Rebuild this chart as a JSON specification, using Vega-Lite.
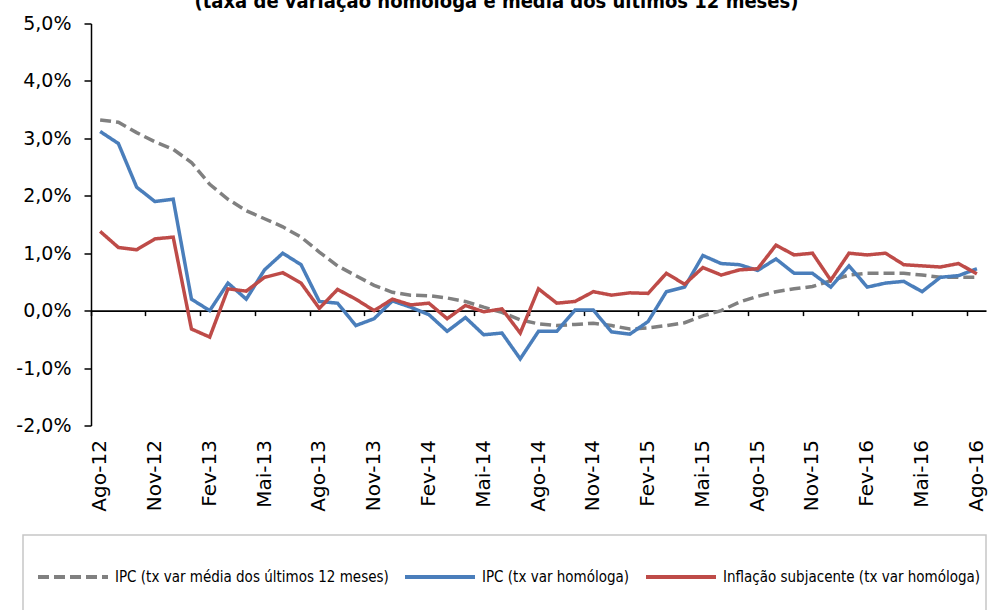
{
  "$schema": "https://vega.github.io/schema/vega-lite/v6.json",
  "width": 895,
  "height": 402,
  "autosize": {"type": "none"},
  "padding": {"left": 91, "top": 23.5, "right": 3, "bottom": 184.5},
  "background": "white",
  "title": {
    "text": "(taxa de variação homóloga e média dos últimos 12 meses)",
    "font": "DejaVu Sans Condensed",
    "fontWeight": "bold",
    "fontSize": 20,
    "color": "black",
    "anchor": "middle",
    "frame": "group",
    "dx": -42,
    "offset": 3
  },
  "config": {
    "view": {"stroke": null},
    "locale": {"number": {"decimal": ",", "thousands": ".", "grouping": [3], "currency": ["", " €"], "minus": "-"}},
    "legend": {
      "orient": "none",
      "legendX": -68,
      "legendY": 511.5,
      "direction": "horizontal",
      "padding": 5,
      "symbolSize": 4900,
      "symbolStrokeWidth": 4,
      "symbolOffset": 8,
      "labelFont": "DejaVu Sans Condensed",
      "labelFontSize": 15,
      "labelColor": "black",
      "labelLimit": 0,
      "labelOffset": 5,
      "columnPadding": 6,
      "strokeColor": "#c6c6c6",
      "strokeWidth": 1.5,
      "titleOrient": "bottom",
      "titleFontSize": 20,
      "titlePadding": 20
    }
  },
  "data": {
    "values": [
      {"m": "Ago-12", "IPC (tx var média dos últimos 12 meses)": 3.32, "IPC (tx var homóloga)": 3.12, "Inflação subjacente (tx var homóloga)": 1.38},
      {"m": "Set-12", "IPC (tx var média dos últimos 12 meses)": 3.28, "IPC (tx var homóloga)": 2.91, "Inflação subjacente (tx var homóloga)": 1.10},
      {"m": "Out-12", "IPC (tx var média dos últimos 12 meses)": 3.10, "IPC (tx var homóloga)": 2.15, "Inflação subjacente (tx var homóloga)": 1.06},
      {"m": "Nov-12", "IPC (tx var média dos últimos 12 meses)": 2.94, "IPC (tx var homóloga)": 1.90, "Inflação subjacente (tx var homóloga)": 1.25},
      {"m": "Dez-12", "IPC (tx var média dos últimos 12 meses)": 2.81, "IPC (tx var homóloga)": 1.94, "Inflação subjacente (tx var homóloga)": 1.28},
      {"m": "Jan-13", "IPC (tx var média dos últimos 12 meses)": 2.58, "IPC (tx var homóloga)": 0.20, "Inflação subjacente (tx var homóloga)": -0.32},
      {"m": "Fev-13", "IPC (tx var média dos últimos 12 meses)": 2.20, "IPC (tx var homóloga)": 0.00, "Inflação subjacente (tx var homóloga)": -0.46},
      {"m": "Mar-13", "IPC (tx var média dos últimos 12 meses)": 1.94, "IPC (tx var homóloga)": 0.48, "Inflação subjacente (tx var homóloga)": 0.38},
      {"m": "Abr-13", "IPC (tx var média dos últimos 12 meses)": 1.74, "IPC (tx var homóloga)": 0.20, "Inflação subjacente (tx var homóloga)": 0.34},
      {"m": "Mai-13", "IPC (tx var média dos últimos 12 meses)": 1.60, "IPC (tx var homóloga)": 0.71, "Inflação subjacente (tx var homóloga)": 0.58},
      {"m": "Jun-13", "IPC (tx var média dos últimos 12 meses)": 1.46, "IPC (tx var homóloga)": 1.00, "Inflação subjacente (tx var homóloga)": 0.66},
      {"m": "Jul-13", "IPC (tx var média dos últimos 12 meses)": 1.28, "IPC (tx var homóloga)": 0.80, "Inflação subjacente (tx var homóloga)": 0.48},
      {"m": "Ago-13", "IPC (tx var média dos últimos 12 meses)": 1.02, "IPC (tx var homóloga)": 0.16, "Inflação subjacente (tx var homóloga)": 0.04},
      {"m": "Set-13", "IPC (tx var média dos últimos 12 meses)": 0.78, "IPC (tx var homóloga)": 0.13, "Inflação subjacente (tx var homóloga)": 0.37},
      {"m": "Out-13", "IPC (tx var média dos últimos 12 meses)": 0.61, "IPC (tx var homóloga)": -0.26, "Inflação subjacente (tx var homóloga)": 0.20},
      {"m": "Nov-13", "IPC (tx var média dos últimos 12 meses)": 0.44, "IPC (tx var homóloga)": -0.14, "Inflação subjacente (tx var homóloga)": 0.00},
      {"m": "Dez-13", "IPC (tx var média dos últimos 12 meses)": 0.32, "IPC (tx var homóloga)": 0.17, "Inflação subjacente (tx var homóloga)": 0.20},
      {"m": "Jan-14", "IPC (tx var média dos últimos 12 meses)": 0.27, "IPC (tx var homóloga)": 0.06, "Inflação subjacente (tx var homóloga)": 0.10},
      {"m": "Fev-14", "IPC (tx var média dos últimos 12 meses)": 0.26, "IPC (tx var homóloga)": -0.07, "Inflação subjacente (tx var homóloga)": 0.13},
      {"m": "Mar-14", "IPC (tx var média dos últimos 12 meses)": 0.22, "IPC (tx var homóloga)": -0.36, "Inflação subjacente (tx var homóloga)": -0.14},
      {"m": "Abr-14", "IPC (tx var média dos últimos 12 meses)": 0.16, "IPC (tx var homóloga)": -0.12, "Inflação subjacente (tx var homóloga)": 0.09},
      {"m": "Mai-14", "IPC (tx var média dos últimos 12 meses)": 0.06, "IPC (tx var homóloga)": -0.42, "Inflação subjacente (tx var homóloga)": -0.02},
      {"m": "Jun-14", "IPC (tx var média dos últimos 12 meses)": -0.03, "IPC (tx var homóloga)": -0.39, "Inflação subjacente (tx var homóloga)": 0.03},
      {"m": "Jul-14", "IPC (tx var média dos últimos 12 meses)": -0.16, "IPC (tx var homóloga)": -0.84, "Inflação subjacente (tx var homóloga)": -0.39},
      {"m": "Ago-14", "IPC (tx var média dos últimos 12 meses)": -0.23, "IPC (tx var homóloga)": -0.36, "Inflação subjacente (tx var homóloga)": 0.38},
      {"m": "Set-14", "IPC (tx var média dos últimos 12 meses)": -0.26, "IPC (tx var homóloga)": -0.36, "Inflação subjacente (tx var homóloga)": 0.13},
      {"m": "Out-14", "IPC (tx var média dos últimos 12 meses)": -0.24, "IPC (tx var homóloga)": 0.01, "Inflação subjacente (tx var homóloga)": 0.16},
      {"m": "Nov-14", "IPC (tx var média dos últimos 12 meses)": -0.22, "IPC (tx var homóloga)": 0.01, "Inflação subjacente (tx var homóloga)": 0.33},
      {"m": "Dez-14", "IPC (tx var média dos últimos 12 meses)": -0.26, "IPC (tx var homóloga)": -0.37, "Inflação subjacente (tx var homóloga)": 0.27},
      {"m": "Jan-15", "IPC (tx var média dos últimos 12 meses)": -0.32, "IPC (tx var homóloga)": -0.41, "Inflação subjacente (tx var homóloga)": 0.31},
      {"m": "Fev-15", "IPC (tx var média dos últimos 12 meses)": -0.30, "IPC (tx var homóloga)": -0.19, "Inflação subjacente (tx var homóloga)": 0.30},
      {"m": "Mar-15", "IPC (tx var média dos últimos 12 meses)": -0.26, "IPC (tx var homóloga)": 0.33, "Inflação subjacente (tx var homóloga)": 0.65},
      {"m": "Abr-15", "IPC (tx var média dos últimos 12 meses)": -0.21, "IPC (tx var homóloga)": 0.41, "Inflação subjacente (tx var homóloga)": 0.46},
      {"m": "Mai-15", "IPC (tx var média dos últimos 12 meses)": -0.09, "IPC (tx var homóloga)": 0.96, "Inflação subjacente (tx var homóloga)": 0.75},
      {"m": "Jun-15", "IPC (tx var média dos últimos 12 meses)": 0.00, "IPC (tx var homóloga)": 0.82, "Inflação subjacente (tx var homóloga)": 0.62},
      {"m": "Jul-15", "IPC (tx var média dos últimos 12 meses)": 0.15, "IPC (tx var homóloga)": 0.80, "Inflação subjacente (tx var homóloga)": 0.71},
      {"m": "Ago-15", "IPC (tx var média dos últimos 12 meses)": 0.25, "IPC (tx var homóloga)": 0.70, "Inflação subjacente (tx var homóloga)": 0.73},
      {"m": "Set-15", "IPC (tx var média dos últimos 12 meses)": 0.33, "IPC (tx var homóloga)": 0.90, "Inflação subjacente (tx var homóloga)": 1.14},
      {"m": "Out-15", "IPC (tx var média dos últimos 12 meses)": 0.38, "IPC (tx var homóloga)": 0.65, "Inflação subjacente (tx var homóloga)": 0.97},
      {"m": "Nov-15", "IPC (tx var média dos últimos 12 meses)": 0.42, "IPC (tx var homóloga)": 0.65, "Inflação subjacente (tx var homóloga)": 1.00},
      {"m": "Dez-15", "IPC (tx var média dos últimos 12 meses)": 0.52, "IPC (tx var homóloga)": 0.41, "Inflação subjacente (tx var homóloga)": 0.53},
      {"m": "Jan-16", "IPC (tx var média dos últimos 12 meses)": 0.62, "IPC (tx var homóloga)": 0.78, "Inflação subjacente (tx var homóloga)": 1.00},
      {"m": "Fev-16", "IPC (tx var média dos últimos 12 meses)": 0.65, "IPC (tx var homóloga)": 0.41, "Inflação subjacente (tx var homóloga)": 0.97},
      {"m": "Mar-16", "IPC (tx var média dos últimos 12 meses)": 0.65, "IPC (tx var homóloga)": 0.48, "Inflação subjacente (tx var homóloga)": 1.00},
      {"m": "Abr-16", "IPC (tx var média dos últimos 12 meses)": 0.65, "IPC (tx var homóloga)": 0.51, "Inflação subjacente (tx var homóloga)": 0.80},
      {"m": "Mai-16", "IPC (tx var média dos últimos 12 meses)": 0.62, "IPC (tx var homóloga)": 0.33, "Inflação subjacente (tx var homóloga)": 0.78},
      {"m": "Jun-16", "IPC (tx var média dos últimos 12 meses)": 0.58, "IPC (tx var homóloga)": 0.58, "Inflação subjacente (tx var homóloga)": 0.76},
      {"m": "Jul-16", "IPC (tx var média dos últimos 12 meses)": 0.58, "IPC (tx var homóloga)": 0.61, "Inflação subjacente (tx var homóloga)": 0.82},
      {"m": "Ago-16", "IPC (tx var média dos últimos 12 meses)": 0.58, "IPC (tx var homóloga)": 0.73, "Inflação subjacente (tx var homóloga)": 0.64}
    ]
  },
  "transform": [
    {"fold": ["IPC (tx var média dos últimos 12 meses)", "IPC (tx var homóloga)", "Inflação subjacente (tx var homóloga)"], "as": ["serie", "valor"]}
  ],
  "encoding": {
    "y": {
      "field": "valor",
      "type": "quantitative",
      "scale": {"domain": [-2, 5], "nice": false, "zero": false},
      "axis": {
        "values": [-2, -1, 0, 1, 2, 3, 4, 5],
        "labelExpr": "format(datum.value, '.1f') + '%'",
        "title": null,
        "grid": false,
        "tickSize": 7,
        "tickColor": "black",
        "tickWidth": 1.5,
        "domainColor": "black",
        "domainWidth": 1.5,
        "labelFont": "DejaVu Sans",
        "labelFontSize": 19,
        "labelColor": "black",
        "labelPadding": 13
      }
    },
    "color": {
      "field": "serie",
      "type": "nominal",
      "title": " ",
      "scale": {
        "domain": ["IPC (tx var média dos últimos 12 meses)", "IPC (tx var homóloga)", "Inflação subjacente (tx var homóloga)"],
        "range": ["#808080", "#4a7ebb", "#be4b48"]
      }
    },
    "strokeDash": {
      "field": "serie",
      "type": "nominal",
      "title": " ",
      "scale": {
        "domain": ["IPC (tx var média dos últimos 12 meses)", "IPC (tx var homóloga)", "Inflação subjacente (tx var homóloga)"],
        "range": [[11, 5], [1, 0], [1, 0]]
      }
    }
  },
  "layer": [
    {
      "transform": [{"filter": "datum.serie === 'IPC (tx var média dos últimos 12 meses)'"}],
      "mark": {"type": "line", "strokeWidth": 3.5},
      "encoding": {
        "x": {
          "field": "m",
          "type": "ordinal",
          "sort": null,
          "bandPosition": 0.5,
          "scale": {"type": "band", "paddingInner": 0, "paddingOuter": 0},
          "axis": {
            "orient": "bottom",
            "title": null,
            "values": ["Ago-12", "Nov-12", "Fev-13", "Mai-13", "Ago-13", "Nov-13", "Fev-14", "Mai-14", "Ago-14", "Nov-14", "Fev-15", "Mai-15", "Ago-15", "Nov-15", "Fev-16", "Mai-16", "Ago-16"],
            "domain": false,
            "ticks": false,
            "grid": false,
            "labelAngle": -90,
            "labelFont": "DejaVu Sans",
            "labelFontSize": 20,
            "labelColor": "black",
            "labelPadding": 14
          }
        }
      }
    },
    {
      "transform": [{"filter": "datum.serie !== 'IPC (tx var média dos últimos 12 meses)'"}],
      "mark": {"type": "line", "strokeWidth": 3.5},
      "encoding": {
        "x": {
          "field": "m",
          "type": "ordinal",
          "sort": null,
          "bandPosition": 0.5,
          "scale": {"type": "band", "paddingInner": 0, "paddingOuter": 0},
          "axis": {
            "orient": "bottom",
            "title": null,
            "offset": -114.9,
            "values": ["Ago-12", "Nov-12", "Fev-13", "Mai-13", "Ago-13", "Nov-13", "Fev-14", "Mai-14", "Ago-14", "Nov-14", "Fev-15", "Mai-15", "Ago-15", "Nov-15", "Fev-16", "Mai-16", "Ago-16"],
            "bandPosition": 0,
            "labels": false,
            "ticks": true,
            "tickSize": 5,
            "tickWidth": 1.5,
            "tickColor": "black",
            "domain": true,
            "domainColor": "black",
            "domainWidth": 1.8,
            "grid": false
          }
        }
      }
    }
  ],
  "resolve": {"axis": {"x": "independent"}}
}
